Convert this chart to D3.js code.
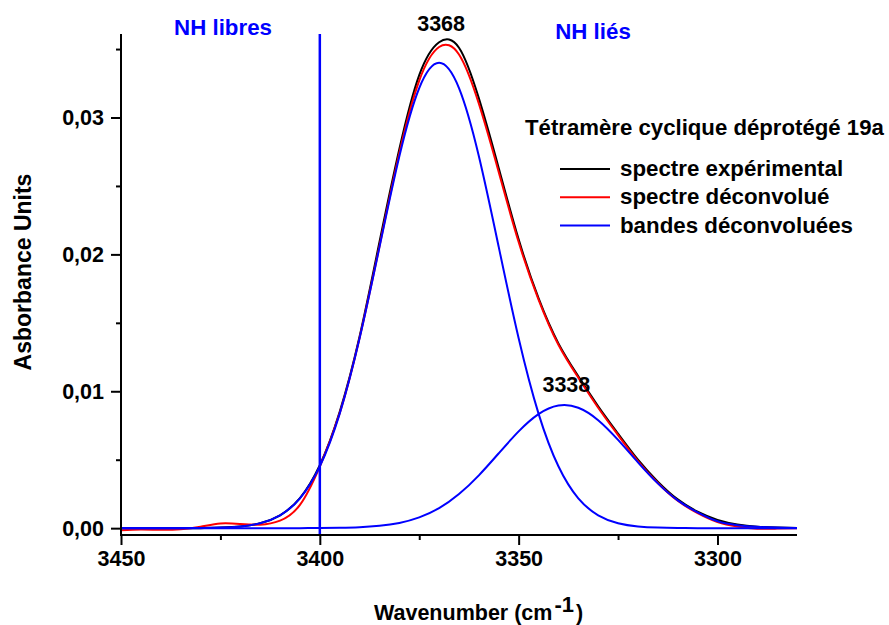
<!DOCTYPE html>
<html>
<head>
<meta charset="utf-8">
<script src="https://cdn.jsdelivr.net/npm/d3@7"></script>
<style>
  html, body { margin: 0; padding: 0; background: #fff; }
  svg { display: block; font-family: "Liberation Sans", Arial, Helvetica, sans-serif; font-weight: bold; }
</style>
</head>
<body>
<svg id="chart" width="889" height="625"></svg>
<script>
// ---- data ----
const wavenumbers = [3450, 3445, 3440, 3435, 3430, 3425, 3420, 3415, 3410, 3405,
                     3400, 3395, 3390, 3385, 3380, 3375, 3370, 3365, 3360, 3355,
                     3350, 3345, 3340, 3335, 3330, 3325, 3320, 3315, 3310, 3305,
                     3300, 3295, 3290, 3285, 3280];
const experimental = [0, 0, 0, 0, 0, 0.00004, 0.00012, 0.00036, 0.00094, 0.0022,
                      0.0046, 0.0085, 0.0140, 0.0209, 0.0277, 0.0331, 0.0355, 0.0351, 0.0314, 0.0263,
                      0.0211, 0.0168, 0.0135, 0.0111, 0.0089, 0.0069, 0.0050, 0.0034, 0.0021, 0.0012,
                      0.0006, 0.00027, 0.00011, 0.00004, 0.00001];
const deconvolved = [-0.00015, -0.0001, -0.00012, -0.00008, 0.0001, 0.00034, 0.0003, 0.00025, 0.00055, 0.0017,
                     0.0045, 0.0084, 0.0139, 0.0206, 0.0274, 0.0327, 0.03515, 0.0346, 0.0310, 0.0260,
                     0.0209, 0.0167, 0.0134, 0.0110, 0.0088, 0.0068, 0.0049, 0.0033, 0.0020, 0.0011,
                     0.00045, 0.00012, -0.00004, -0.00003, 0];
const band3368 = [0, 0, 0, 0, 0.00001, 0.00004, 0.000125, 0.00036, 0.00094, 0.00218,
                  0.00452, 0.00837, 0.01387, 0.02053, 0.02717, 0.03215, 0.0340, 0.03215, 0.02717, 0.02053,
                  0.01387, 0.00837, 0.00452, 0.00218, 0.00094, 0.00036, 0.000125, 0.00004, 0.00001, 0,
                  0, 0, 0, 0, 0];
const band3338 = [0, 0, 0, 0, 0, 0, 0, 0, 0, 0,
                  0.00001, 0.00003, 0.00007, 0.00017, 0.00038, 0.00079, 0.00146, 0.00249, 0.00386, 0.00547,
                  0.00707, 0.00833, 0.00896, 0.0088, 0.00789, 0.00645, 0.00481, 0.00327, 0.00203, 0.00115,
                  0.0005, 0.00022, 0.0001, 0.00004, 0.00002];
const xMajorTicks = [3450, 3400, 3350, 3300];
const xMinorTicks = [3425, 3375, 3325];
const yMajorTicks = [0, 0.01, 0.02, 0.03];
const yMinorTicks = [0.005, 0.015, 0.025, 0.035];
const yTickLabels = ["0,00", "0,01", "0,02", "0,03"];
const legendTitle = "Tétramère cyclique déprotégé 19a";
const legendNames = ["spectre expérimental", "spectre déconvolué", "bandes déconvoluées"];
const legendColors = ["#000000", "#ff0000", "#0000ff"];
const freeNH = 3400;
const peakLabels = [{text: "3368", wn: 3369, v: 0.0356}, {text: "3338", wn: 3338, v: 0.009}];

// ---- layout ----
const svg = d3.select("#chart");
const x = d3.scaleLinear().domain([3450, 3280]).range([121, 797]);
const y = d3.scaleLinear().domain([-0.0005, 0.0361]).range([535, 34]);

const line = (vals) => d3.line()
  .x((d, i) => x(wavenumbers[i]))
  .y(d => y(d))
  .curve(d3.curveNatural)(vals);

// curves
svg.append("path").attr("d", line(experimental)).attr("fill", "none").attr("stroke", "#000").attr("stroke-width", 2);
svg.append("path").attr("d", line(deconvolved)).attr("fill", "none").attr("stroke", "#ff0000").attr("stroke-width", 2);
svg.append("path").attr("d", line(band3368)).attr("fill", "none").attr("stroke", "#0000ff").attr("stroke-width", 2);
svg.append("path").attr("d", line(band3338)).attr("fill", "none").attr("stroke", "#0000ff").attr("stroke-width", 2);

// vertical separator line
svg.append("line")
  .attr("x1", x(freeNH)).attr("x2", x(freeNH))
  .attr("y1", y.range()[1]).attr("y2", y.range()[0])
  .attr("stroke", "#0000ff").attr("stroke-width", 2.5);

// axes
const xAxisMajor = d3.axisBottom(x).tickValues(xMajorTicks).tickSize(10).tickPadding(6).tickFormat(d3.format("d"));
const xAxisMinor = d3.axisBottom(x).tickValues(xMinorTicks).tickSize(5).tickFormat("");
const yAxisMajor = d3.axisLeft(y).tickValues(yMajorTicks).tickSize(10).tickPadding(7)
  .tickFormat((d, i) => yTickLabels[i]);
const yAxisMinor = d3.axisLeft(y).tickValues(yMinorTicks).tickSize(5).tickFormat("");

function styleAxis(g) {
  g.select(".domain").remove();
  g.selectAll(".tick line").attr("stroke", "#000").attr("stroke-width", 2);
  g.selectAll("text").attr("fill", "#000").attr("font-size", 21.5)
    .attr("font-family", "'Liberation Sans', Arial, sans-serif").attr("font-weight", "bold");
}
svg.append("g").attr("transform", "translate(0,535)").call(xAxisMajor).call(styleAxis);
svg.append("g").attr("transform", "translate(0,535)").call(xAxisMinor).call(styleAxis);
svg.append("g").attr("transform", "translate(121,0)").call(yAxisMajor).call(styleAxis);
svg.append("g").attr("transform", "translate(121,0)").call(yAxisMinor).call(styleAxis);

// axis lines
svg.append("line").attr("x1", 121).attr("x2", 121).attr("y1", 34).attr("y2", 536)
  .attr("stroke", "#000").attr("stroke-width", 2);
svg.append("line").attr("x1", 120).attr("x2", 797).attr("y1", 535).attr("y2", 535)
  .attr("stroke", "#000").attr("stroke-width", 2);

// axis titles
const xt = svg.append("text").attr("x", 374).attr("y", 620).attr("font-size", 21.5).attr("fill", "#000");
xt.append("tspan").text("Wavenumber (cm");
xt.append("tspan").attr("font-size", 22).attr("dx", 2).attr("dy", -8).text("-1");
xt.append("tspan").attr("dx", 2).attr("dy", 8).text(")");

svg.append("text")
  .attr("transform", "translate(31,272) rotate(-90)")
  .attr("text-anchor", "middle").attr("font-size", 23).attr("fill", "#000")
  .text("Asborbance Units");

// region annotations
svg.append("text").attr("x", 223).attr("y", 35).attr("text-anchor", "middle")
  .attr("font-size", 22.3).attr("fill", "#0000ff").text("NH libres");
svg.append("text").attr("x", 593).attr("y", 39).attr("text-anchor", "middle")
  .attr("font-size", 22.3).attr("fill", "#0000ff").text("NH liés");

// peak labels
svg.append("text").attr("x", x(peakLabels[0].wn) - 2).attr("y", y(peakLabels[0].v) - 10)
  .attr("text-anchor", "middle").attr("font-size", 21.5).attr("fill", "#000").text(peakLabels[0].text);
svg.append("text").attr("x", x(peakLabels[1].wn)).attr("y", y(peakLabels[1].v) - 13)
  .attr("text-anchor", "middle").attr("font-size", 21.5).attr("fill", "#000").text(peakLabels[1].text);

// legend
svg.append("text").attr("x", 525).attr("y", 135).attr("font-size", 22.2).attr("fill", "#000").text(legendTitle);
const lg = svg.append("g");
legendNames.forEach((name, i) => {
  const yy = 169 + i * 28.3;
  lg.append("line").attr("x1", 560).attr("x2", 610).attr("y1", yy).attr("y2", yy)
    .attr("stroke", legendColors[i]).attr("stroke-width", 2);
  lg.append("text").attr("x", 620).attr("y", yy + 7).attr("font-size", 22.3).attr("fill", "#000").text(name);
});
</script>
</body>
</html>
